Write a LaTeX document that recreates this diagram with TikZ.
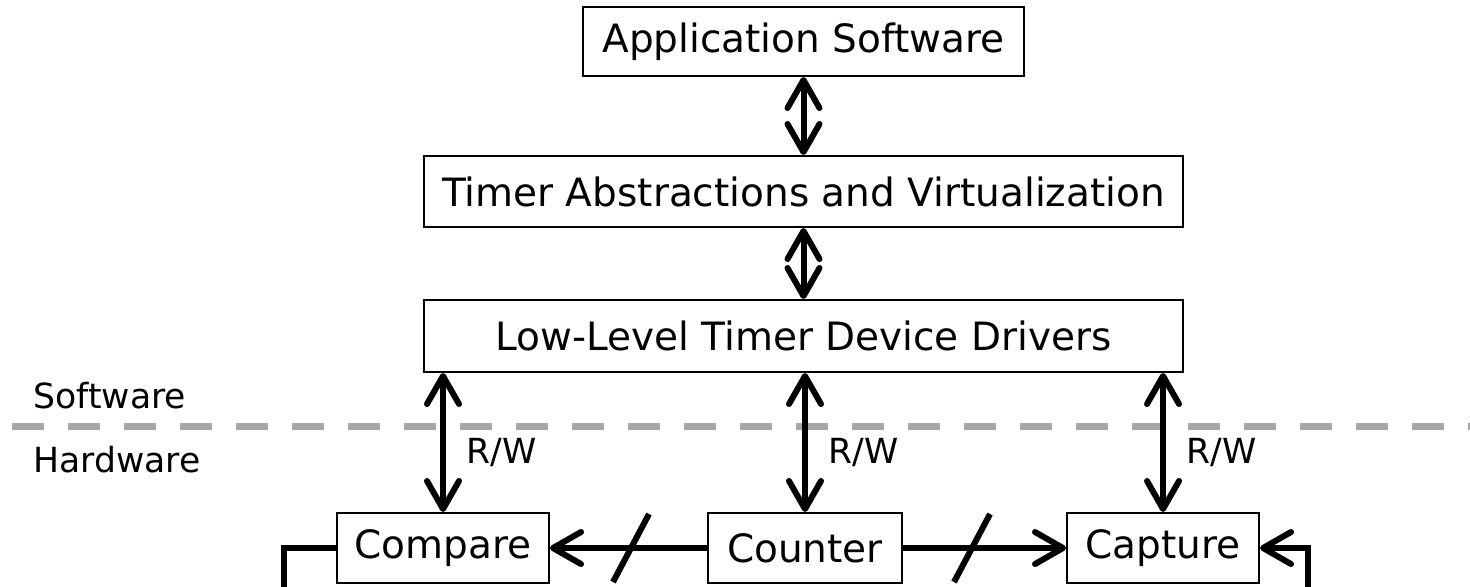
\documentclass[tikz,border=0pt]{standalone}
\usepackage{fontspec}
\setmainfont{DejaVu Sans}
\usetikzlibrary{arrows.meta}
\definecolor{divider}{HTML}{A6A6A6}
\tikzset{
  barb/.tip={Straight Barb[length=14pt,width=16pt,round]},
  box/.style={draw, line width=1pt, fill=white, inner sep=0pt,
    font=\fontsize{19.5}{23}\selectfont},
  label/.style={inner sep=0pt, font=\fontsize{17.3}{20}\selectfont},
  link/.style={line width=3pt, barb-barb},
  wire/.style={line width=3pt},
  slash/.style={line width=3pt},
  layerline/.style={draw=divider, line width=3.5pt, dash pattern=on 16pt off 12pt}
}
\begin{document}
\begin{tikzpicture}[x=0.5pt,y=-0.5pt]
\useasboundingbox (0,0) rectangle (1470,586);

% software / hardware divider
\coordinate (divl) at (12,426);
\coordinate (divr) at (1490,426);
\draw[layerline] (divl) -- (divr);
\node[label, anchor=base west] (sw) at (33,408) {Software};
\node[label, anchor=base west] (hw) at (33,472) {Hardware};

% software stack
\node[box, minimum width=220.5pt, minimum height=34.5pt] (app) at (803.5,41.5) {Application Software};
\node[box, minimum width=379.5pt, minimum height=35.5pt] (abs) at (803.5,191.5) {Timer Abstractions and Virtualization};
\node[box, minimum width=379.5pt, minimum height=36pt] (drv) at (803.5,336) {Low-Level Timer Device Drivers};

\draw[link] (app) -- (abs);
\draw[link] (abs) -- (drv);

% timer hardware blocks
\node[box, minimum width=106pt, minimum height=35pt] (cmp) at (443,548) {Compare};
\node[box, minimum width=97pt, minimum height=35pt] (cnt) at (805,548) {Counter};
\node[box, minimum width=96pt, minimum height=35pt] (cap) at (1163,548) {Capture};

% register access from the drivers
\draw[link] (drv.south -| cmp.north) -- (cmp.north);
\draw[link] (drv.south -| cnt.north) -- (cnt.north);
\draw[link] (drv.south -| cap.north) -- (cap.north);
\node[label, anchor=base west] (rw1) at (466,463) {R/W};
\node[label, anchor=base west] (rw2) at (828,463) {R/W};
\node[label, anchor=base west] (rw3) at (1186,463) {R/W};

% counter value buses
\draw[wire, -barb] (cnt.west) -- (cmp.east);
\draw[wire, -barb] (cnt.east) -- (cap.west);
\coordinate (bus1) at (631,548);
\coordinate (bus2) at (972,548);
\draw[slash] (bus1) ++(-18,34) -- ++(36,-68);
\draw[slash] (bus2) ++(-18,34) -- ++(36,-68);

% external signals
\coordinate (outcmp) at (284,610);
\coordinate (incap) at (1308,610);
\draw[wire] (cmp.west) -| (outcmp);
\draw[wire, -barb] (incap) |- (cap.east);
\end{tikzpicture}
\end{document}
